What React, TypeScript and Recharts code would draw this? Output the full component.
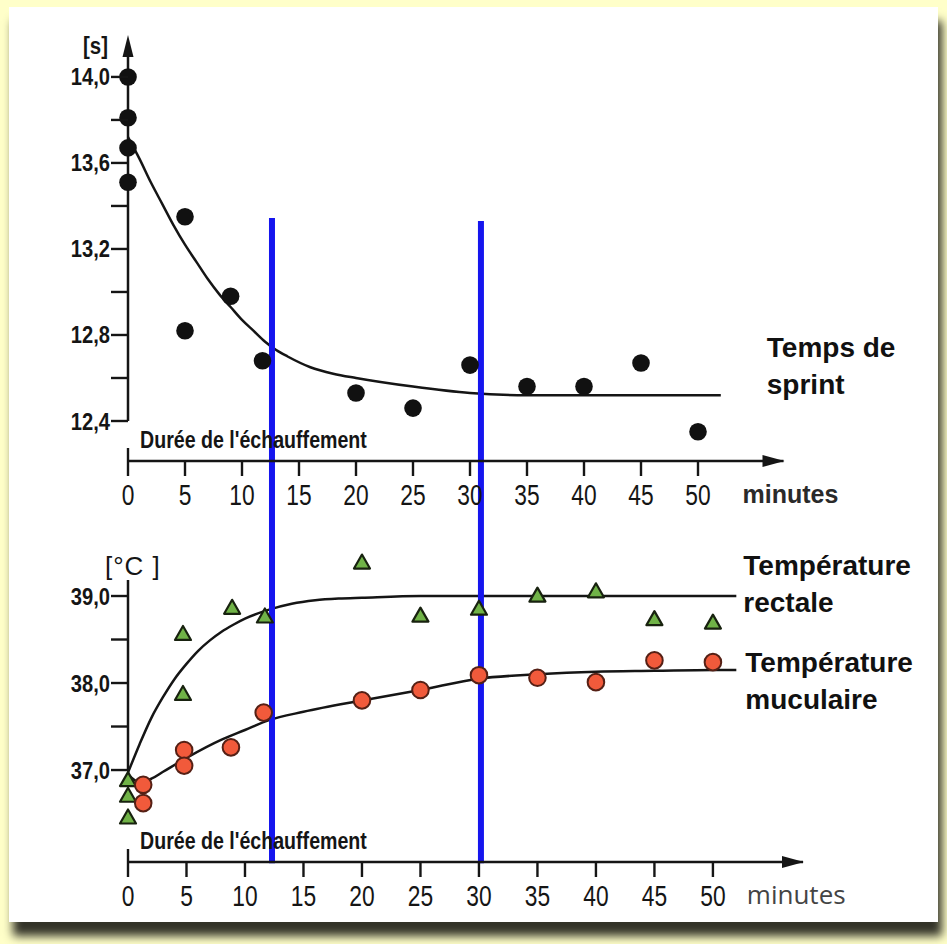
import React from 'react'
import { ComposedChart, Line, Scatter, XAxis, YAxis, ReferenceLine, ReferenceDot } from 'recharts'

// minutes on both time axes
const MINUTE_TICKS = [0, 5, 10, 15, 20, 25, 30, 35, 40, 45, 50]

// sprint time [s]
const SPRINT_T = [0, 0, 0, 0, 5, 5, 9, 11.8, 20, 25, 30, 35, 40, 45, 50]
const SPRINT_S = [14.0, 13.81, 13.67, 13.51, 13.35, 12.82, 12.98, 12.68, 12.53, 12.46, 12.66, 12.56, 12.56, 12.67, 12.35]
const SPRINT_FIT_T = [0, 1, 2, 3, 4, 5, 6, 7, 8, 9, 10, 11, 12, 13, 14, 16, 18, 20, 25, 30, 35, 40, 45, 50, 52]
const SPRINT_FIT_S = [13.72, 13.62, 13.51, 13.41, 13.31, 13.22, 13.14, 13.06, 12.99, 12.93, 12.87, 12.82, 12.77, 12.73, 12.7, 12.65, 12.62, 12.6, 12.56, 12.53, 12.52, 12.52, 12.52, 12.52, 12.52]
const SPRINT_TICKS = [12.4, 12.6, 12.8, 13.0, 13.2, 13.4, 13.6, 13.8, 14.0]
const SPRINT_LABELED = [12.4, 12.8, 13.2, 13.6, 14.0]

// temperatures [°C]
const RECTAL_T = [0, 0, 0, 4.7, 4.7, 8.9, 11.7, 20, 25, 30, 35, 40, 45, 50]
const RECTAL_C = [36.89, 36.71, 36.46, 38.57, 37.88, 38.87, 38.77, 39.39, 38.78, 38.86, 39.01, 39.06, 38.74, 38.7]
const RECTAL_FIT_T = [0, 1, 2, 3, 4, 5, 6, 7, 8, 9, 10, 12, 14, 16, 18, 20, 25, 30, 35, 40, 45, 50, 52]
const RECTAL_FIT_C = [36.97, 37.3, 37.6, 37.84, 38.05, 38.22, 38.37, 38.49, 38.59, 38.67, 38.74, 38.84, 38.91, 38.95, 38.97, 38.98, 39.0, 39.0, 39.0, 39.0, 39.0, 39.0, 39.0]
const MUSCLE_T = [1.3, 1.3, 4.8, 4.8, 8.8, 11.6, 20, 25, 30, 35, 40, 45, 50]
const MUSCLE_C = [36.83, 36.62, 37.23, 37.05, 37.26, 37.66, 37.8, 37.92, 38.09, 38.06, 38.01, 38.26, 38.24]
const MUSCLE_FIT_T = [0, 1, 2, 3, 5, 8, 10, 12, 15, 20, 25, 30, 35, 40, 45, 50, 52]
const MUSCLE_FIT_C = [36.95, 36.86, 36.9, 36.98, 37.14, 37.35, 37.46, 37.57, 37.67, 37.8, 37.92, 38.05, 38.1, 38.13, 38.14, 38.15, 38.15]
const TEMP_TICKS = [37.0, 37.5, 38.0, 38.5, 39.0]
const TEMP_LABELED = [37.0, 38.0, 39.0]

const SANS = "'Liberation Sans', Arial, sans-serif"
const INK = '#151515'
const BLUE = '#1515ee'
const WARMUP = "Durée de l'échauffement"

const zip = (t: number[], v: number[]) => t.map((x, i) => ({ t: x, v: v[i] }))

// condensed look: Liberation Sans squeezed horizontally
const Squeezed = ({ x, y, anchor = 'start', size, bold = false, sx, fill = INK, children }: any) => (
  <text transform={`translate(${x},${y}) scale(${sx},1)`} textAnchor={anchor} fontFamily={SANS}
    fontSize={size} fontWeight={bold ? 'bold' : 'normal'} fill={fill}>{children}</text>
)

const BlackDot = (p: any) => <circle cx={p.cx} cy={p.cy} r={8.8} fill="#111" />
const GreenTri = (p: any) => (
  <polygon
    points={`${p.cx},${p.cy - 7.5} ${p.cx + 8},${p.cy + 6.5} ${p.cx - 8},${p.cy + 6.5}`}
    fill="#70b347" stroke="#18220f" strokeWidth={2.2} strokeLinejoin="round"
  />
)
const RedDot = (p: any) => <circle cx={p.cx} cy={p.cy} r={8.3} fill="#f15a3b" stroke="#552015" strokeWidth={2} />

const makeXTick = (minutesAt: number, minutesStyle: React.CSSProperties) => (p: any) => {
  const { x, y, payload } = p
  const v = payload.value
  if (v === minutesAt) {
    return <text x={x} y={y + 42} textAnchor="start" style={minutesStyle}>minutes</text>
  }
  return (
    <g>
      <line x1={x} x2={x} y1={v === 0 ? y - 13 : y} y2={y + 15} stroke={INK} strokeWidth={2.4} />
      <Squeezed x={x} y={y + 44} anchor="middle" size={30} sx={0.76}>{v}</Squeezed>
      {v === 0 && <Squeezed x={x + 12} y={y - 13} size={23.5} bold sx={0.835}>{WARMUP}</Squeezed>}
    </g>
  )
}

const makeYTick = (labeled: number[]) => (p: any) => {
  const { x, y, payload } = p
  const v = payload.value
  const show = labeled.some(m => Math.abs(m - v) < 1e-6)
  return (
    <g>
      <line x1={x - 17} x2={x} y1={y} y2={y} stroke={INK} strokeWidth={2.4} />
      {show && (
        <Squeezed x={x - 18} y={y + 8.5} anchor="end" size={24} bold sx={0.84}>
          {v.toFixed(1).replace('.', ',')}
        </Squeezed>
      )}
    </g>
  )
}

const RightArrow = (p: any) => (
  <polygon points={`${p.cx + 1},${p.cy} ${p.cx - 21},${p.cy - 6} ${p.cx - 21},${p.cy + 6}`} fill={INK} />
)

const SeriesLabel = ({ cx, cy, dx, dy, lines }: any) => (
  <g>
    {lines.map((s: string, i: number) => (
      <text key={s} x={cx + dx} y={cy + dy + i * 37} fontFamily={SANS} fontWeight="bold" fontSize={28} fill="#111">{s}</text>
    ))}
  </g>
)

const topXTick = makeXTick(53.9, { fontFamily: SANS, fontWeight: 'bold', fontSize: 25, fill: '#2a2a2a' })
const bottomXTick = makeXTick(52.9, { fontFamily: "'Open Sans', sans-serif", fontSize: 26, fill: '#444' })

function SprintChart() {
  return (
    <ComposedChart width={947} height={530} margin={{ top: 35, right: 163.5, bottom: 0, left: 58 }}>
      <XAxis type="number" dataKey="t" domain={[0, 57.5]} ticks={[...MINUTE_TICKS, 53.9]} interval={0}
        tick={topXTick} tickLine={false} tickSize={0} tickMargin={0} axisLine={{ stroke: INK, strokeWidth: 2.5 }} height={69} />
      <YAxis type="number" domain={[12.214, 14.195]} ticks={SPRINT_TICKS} interval={0}
        tick={makeYTick(SPRINT_LABELED)} tickLine={false} tickSize={0} tickMargin={0} axisLine={false} width={70} />
      <ReferenceLine segment={[{ x: 0, y: 12.4 }, { x: 0, y: 14.1 }]} stroke={INK} strokeWidth={2.5} ifOverflow="visible" />
      <ReferenceDot x={0} y={14.195} ifOverflow="visible" shape={(p: any) => (
        <g>
          <polygon points={`${p.cx},${p.cy} ${p.cx - 5.5},${p.cy + 22} ${p.cx + 5.5},${p.cy + 22}`} fill={INK} />
          <Squeezed x={p.cx - 20} y={p.cy + 19} anchor="end" size={24} bold sx={0.85}>[s]</Squeezed>
        </g>
      )} />
      <ReferenceDot x={57.5} y={12.214} ifOverflow="visible" shape={RightArrow} />
      <Line data={zip(SPRINT_FIT_T, SPRINT_FIT_S)} dataKey="v" type="monotone" stroke={INK} strokeWidth={2.5} dot={false} isAnimationActive={false} />
      <Scatter data={zip(SPRINT_T, SPRINT_S)} dataKey="v" shape={BlackDot} isAnimationActive={false} />
      <ReferenceDot x={52} y={12.52} ifOverflow="visible" shape={(p: any) => <SeriesLabel {...p} dx={46} dy={-38} lines={['Temps de', 'sprint']} />} />
      <ReferenceLine segment={[{ x: 12.63, y: 13.344 }, { x: 12.63, y: 11.8 }]} stroke={BLUE} strokeWidth={6} ifOverflow="visible" />
      <ReferenceLine segment={[{ x: 30.96, y: 13.33 }, { x: 30.96, y: 11.8 }]} stroke={BLUE} strokeWidth={6} ifOverflow="visible" />
    </ComposedChart>
  )
}

function TempChart() {
  return (
    <ComposedChart width={947} height={414} margin={{ top: 13.8, right: 144, bottom: 12, left: 58 }}>
      <XAxis type="number" dataKey="t" domain={[0, 57.7]} ticks={[...MINUTE_TICKS, 52.9]} interval={0}
        tick={bottomXTick} tickLine={false} tickSize={0} tickMargin={0} axisLine={{ stroke: INK, strokeWidth: 2.5 }} height={70} />
      <YAxis type="number" domain={[35.943, 39.6]} ticks={TEMP_TICKS} interval={0}
        tick={makeYTick(TEMP_LABELED)} tickLine={false} tickSize={0} tickMargin={0} axisLine={false} width={70} />
      <ReferenceLine segment={[{ x: 0, y: 37.0 }, { x: 0, y: 39.184 }]} stroke={INK} strokeWidth={2.5} ifOverflow="visible" />
      <ReferenceDot x={0} y={39.184} ifOverflow="visible" shape={(p: any) => (
        <text x={p.cx - 23} y={p.cy - 5} fontFamily={SANS} fontSize={26} fill={INK} letterSpacing={1}>[°C ]</text>
      )} />
      <ReferenceDot x={57.7} y={35.943} ifOverflow="visible" shape={RightArrow} />
      <Line data={zip(RECTAL_FIT_T, RECTAL_FIT_C)} dataKey="v" type="monotone" stroke={INK} strokeWidth={2.5} dot={false} isAnimationActive={false} />
      <Line data={zip(MUSCLE_FIT_T, MUSCLE_FIT_C)} dataKey="v" type="monotone" stroke={INK} strokeWidth={2.5} dot={false} isAnimationActive={false} />
      <Scatter data={zip(RECTAL_T, RECTAL_C)} dataKey="v" shape={GreenTri} isAnimationActive={false} />
      <Scatter data={zip(MUSCLE_T, MUSCLE_C)} dataKey="v" shape={RedDot} isAnimationActive={false} />
      <ReferenceDot x={52} y={39.0} ifOverflow="visible" shape={(p: any) => <SeriesLabel {...p} dx={7} dy={-21} lines={['Température', 'rectale']} />} />
      <ReferenceDot x={52} y={38.15} ifOverflow="visible" shape={(p: any) => <SeriesLabel {...p} dx={9} dy={2} lines={['Température', 'muculaire']} />} />
      <ReferenceLine segment={[{ x: 12.31, y: 39.8 }, { x: 12.31, y: 35.93 }]} stroke={BLUE} strokeWidth={6} ifOverflow="visible" />
      <ReferenceLine segment={[{ x: 30.17, y: 39.8 }, { x: 30.17, y: 35.93 }]} stroke={BLUE} strokeWidth={6} ifOverflow="visible" />
    </ComposedChart>
  )
}

export default function App() {
  return (
    <div style={{ position: 'relative', width: 947, height: 944, background: '#ffffc9', overflow: 'hidden' }}>
      <style>{'body{margin:0}'}</style>
      <div style={{ position: 'absolute', left: 9, top: 7, width: 929, height: 915, background: '#fff', boxShadow: '4px 14px 9px rgba(0,0,0,0.8)' }} />
      <div style={{ position: 'absolute', left: 0, top: 0 }}><SprintChart /></div>
      <div style={{ position: 'absolute', left: 0, top: 530 }}><TempChart /></div>
    </div>
  )
}
